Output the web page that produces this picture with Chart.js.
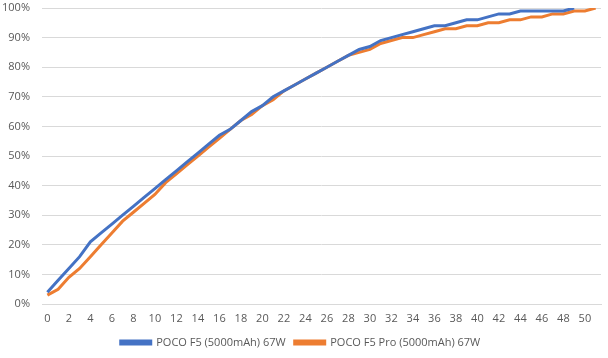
<!DOCTYPE html>
<html>
<head>
<meta charset="utf-8">
<script src="https://cdn.jsdelivr.net/npm/chart.js@4"></script>
<style>
  html, body { margin: 0; padding: 0; background: #fff; }
  #wrap { width: 608px; height: 358px; }
</style>
</head>
<body>
<div id="wrap"><canvas id="lineChart" width="608" height="358"></canvas></div>
<script>
// minutes of charging
const minutes = [];
for (let i = 0; i <= 51; i++) minutes.push(String(i));

const pocoF5 = [4, 8, 12, 16, 21, 24, 27, 30, 33, 36, 39, 42, 45, 48, 51, 54, 57, 59, 62, 65,
  67, 70, 72, 74, 76, 78, 80, 82, 84, 86, 87, 89, 90, 91, 92, 93, 94, 94, 95, 96,
  96, 97, 98, 98, 99, 99, 99, 99, 99, 100];

const pocoF5Pro = [3, 5, 9, 12, 16, 20, 24, 28, 31, 34, 37, 41, 44, 47, 50, 53, 56, 59, 62, 64,
  67, 69, 72, 74, 76, 78, 80, 82, 84, 85, 86, 88, 89, 90, 90, 91, 92, 93, 93, 94,
  94, 95, 95, 96, 96, 97, 97, 98, 98, 99, 99, 100];

const yTicks = [0, 10, 20, 30, 40, 50, 60, 70, 80, 90, 100];

const gray = '#595959';
const gridColor = '#d9d9d9';

const ctx = document.getElementById('lineChart').getContext('2d');
const chart = new Chart(ctx, {
  type: 'line',
  data: {
    labels: minutes,
    datasets: [{
      label: 'POCO F5 (5000mAh) 67W',
      data: pocoF5,
      borderColor: '#4472C4',
      backgroundColor: '#4472C4',
      borderWidth: 3,
      pointRadius: 0,
      tension: 0,
      fill: false,
    }, {
      label: 'POCO F5 Pro (5000mAh) 67W',
      data: pocoF5Pro,
      borderColor: '#ED7D31',
      backgroundColor: '#ED7D31',
      borderWidth: 3,
      pointRadius: 0,
      tension: 0,
      fill: false,
    }]
  },
  options: {
    responsive: false,
    animation: false,
    layout: { padding: { top: 8, right: 7, left: 0, bottom: 0 } },
    plugins: {
      legend: {
        display: true,
        position: 'bottom',
        labels: {
          color: gray,
          font: { family: 'Open Sans', size: 11 },
          boxWidth: 30,
          boxHeight: 3,
          padding: 9,
        }
      },
      title: { display: false },
      tooltip: { enabled: false }
    },
    scales: {
      x: {
        type: 'category',
        offset: true,
        afterFit: s => { s.height = 24; },
        grid: { display: false, drawTicks: false },
        border: { display: true, color: gridColor, width: 1 },
        ticks: {
          color: gray,
          font: { family: 'Open Sans', size: 11 },
          autoSkip: false,
          maxRotation: 0,
          padding: 8,
          callback: function (val, idx) { return idx % 2 === 0 ? this.getLabelForValue(val) : ''; }
        }
      },
      y: {
        min: 0,
        max: 100,
        afterFit: s => { s.width = 42; s.paddingTop = 0; s.paddingBottom = 0; },
        afterBuildTicks: s => { s.ticks = yTicks.map(v => ({ value: v })); },
        grid: { color: gridColor, lineWidth: 1, drawTicks: false },
        border: { display: false },
        ticks: {
          color: gray,
          font: { family: 'Open Sans', size: 11 },
          padding: 12,
          callback: v => v + '%'
        }
      }
    }
  }
});
</script>
</body>
</html>
